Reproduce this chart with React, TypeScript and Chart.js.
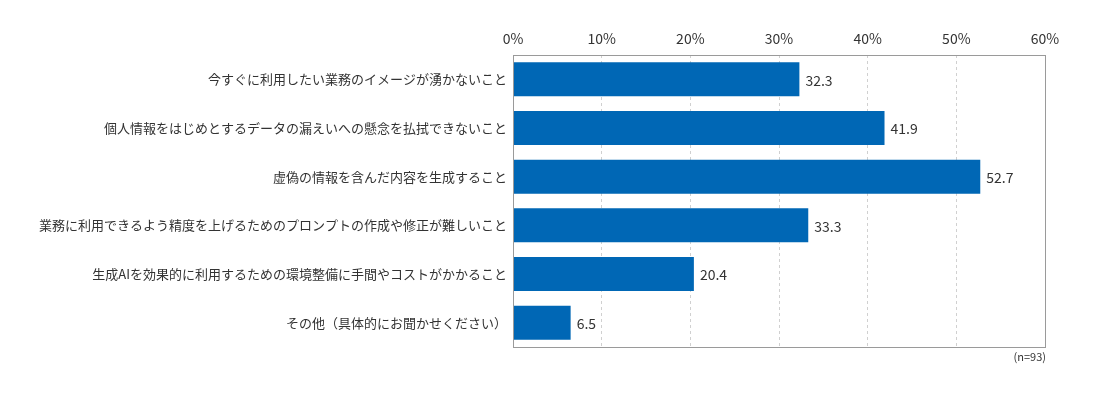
import React, { useEffect, useRef } from 'react';
import Chart from 'chart.js/auto';

const categories = [
  '今すぐに利用したい業務のイメージが湧かないこと',
  '個人情報をはじめとするデータの漏えいへの懸念を払拭できないこと',
  '虚偽の情報を含んだ内容を生成すること',
  '業務に利用できるよう精度を上げるためのプロンプトの作成や修正が難しいこと',
  '生成AIを効果的に利用するための環境整備に手間やコストがかかること',
  'その他（具体的にお聞かせください）',
];
const values = [32.3, 41.9, 52.7, 33.3, 20.4, 6.5];
const xTicks = [0, 10, 20, 30, 40, 50, 60];
const note = '(n=93)';

const FONT = '"Noto Sans CJK JP", "Noto Sans", sans-serif';
const TEXT = '#333333';

// value labels at the end of each bar, box round the plot, sample-size note
const extrasPlugin = {
  id: 'extras',
  afterDatasetsDraw(chart: any) {
    const { ctx, chartArea } = chart;
    const meta = chart.getDatasetMeta(0);
    ctx.save();
    ctx.font = `14px ${FONT}`;
    ctx.fillStyle = TEXT;
    ctx.textAlign = 'left';
    ctx.textBaseline = 'middle';
    meta.data.forEach((bar: any, i: number) => {
      ctx.fillText(values[i].toFixed(1), bar.x + 6, bar.y + 1);
    });
    ctx.strokeStyle = '#9a9a9a';
    ctx.lineWidth = 1;
    ctx.strokeRect(
      Math.round(chartArea.left) + 0.5,
      Math.round(chartArea.top) + 0.5,
      Math.round(chartArea.right - chartArea.left),
      Math.round(chartArea.bottom - chartArea.top)
    );
    ctx.font = `11px ${FONT}`;
    ctx.textAlign = 'right';
    ctx.fillText(note, chartArea.right + 1, chartArea.bottom + 10);
    ctx.restore();
  },
};

const App: React.FC = () => {
  const canvasRef = useRef<HTMLCanvasElement>(null);

  useEffect(() => {
    if (!canvasRef.current) return;
    const chart = new Chart(canvasRef.current, {
      type: 'bar',
      data: {
        labels: categories,
        datasets: [
          {
            data: values,
            backgroundColor: '#0067b5',
            barPercentage: 0.7,
            categoryPercentage: 1,
          },
        ],
      },
      options: {
        indexAxis: 'y',
        animation: false,
        responsive: true,
        maintainAspectRatio: false,
        layout: { padding: { top: 0, right: 47, bottom: 45, left: 0 } },
        plugins: {
          legend: { display: false },
          tooltip: { enabled: false },
        },
        scales: {
          x: {
            position: 'top',
            min: 0,
            max: 60,
            afterBuildTicks: (axis: any) => {
              axis.ticks = xTicks.map((v) => ({ value: v }));
            },
            afterFit: (axis: any) => {
              axis.height = 47;
            },
            ticks: {
              callback: (v: any) => `${v}%`,
              color: TEXT,
              font: { family: FONT, size: 14 },
              padding: 8,
            },
            grid: {
              color: '#d0d0d0',
              drawTicks: false,
            },
            border: { display: false, dash: [3, 3] },
          },
          y: {
            afterFit: (axis: any) => {
              axis.width = 505;
            },
            ticks: {
              color: TEXT,
              font: { family: FONT, size: 13 },
              padding: 6,
              autoSkip: false,
            },
            grid: { display: false, drawTicks: false },
            border: { display: false },
          },
        },
      },
      plugins: [extrasPlugin],
    });
    return () => chart.destroy();
  }, []);

  return (
    <div style={{ width: '100%', height: '384px', background: '#ffffff' }}>
      <canvas ref={canvasRef} />
    </div>
  );
};

export default App;
